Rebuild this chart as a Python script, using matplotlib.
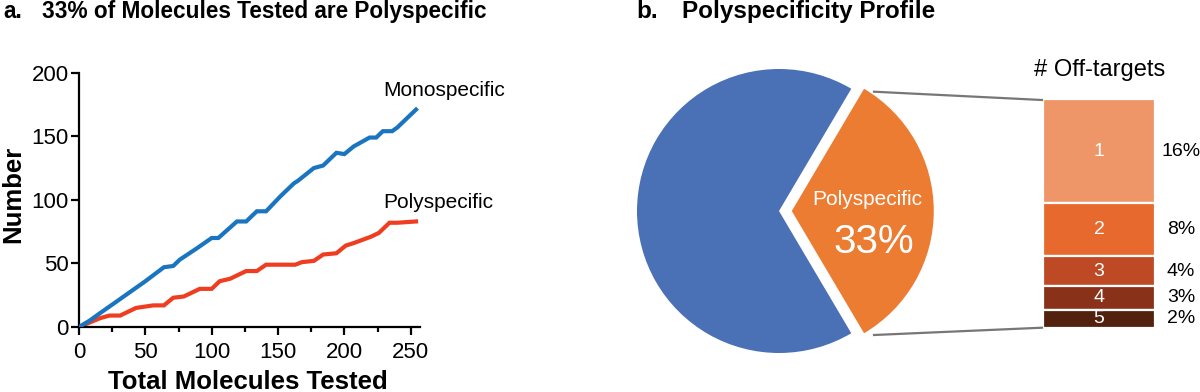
import matplotlib
matplotlib.use("Agg")
import matplotlib.pyplot as plt
from matplotlib.ticker import MultipleLocator

plt.rcParams['font.family'] = ['Liberation Sans', 'DejaVu Sans']

# ---------------- data ----------------
mono_x = [0, 8, 16, 31, 50, 64, 71, 76, 89, 100, 105, 119, 126, 134, 141, 152,
          162, 165, 177, 184, 194, 200, 207, 219, 224, 229, 236, 240, 254]
mono_y = [0, 5, 11, 22, 36, 47, 48, 53, 62, 70, 70, 83, 83, 91, 91, 103,
          113, 115, 125, 127, 137, 136, 142, 149, 149, 154, 154, 157, 171]

poly_x = [0, 16, 23, 31, 43, 56, 64, 71, 79, 91, 100, 106, 114, 126, 134, 141,
          163, 168, 177, 184, 194, 201, 207, 220, 226, 234, 240, 254]
poly_y = [0, 7, 9, 9, 15, 17, 17, 23, 24, 30, 30, 36, 38, 44, 44, 49,
          49, 51, 52, 57, 58, 64, 66, 71, 74, 82, 82, 83]

pie_labels = ['Monospecific', 'Polyspecific']
pie_values = [67, 33]

offtarget_labels = ['1', '2', '3', '4', '5']
offtarget_pct_labels = ['16%', '8%', '4%', '3%', '2%']
offtarget_sizes = [16.2, 8.3, 4.6, 3.7, 2.9]   # drawn segment sizes

# ---------------- figure ----------------
W, H = 1200, 392
fig = plt.figure(figsize=(W / 100, H / 100), dpi=100)


def px_rect(x0, y0, x1, y1):
    """pixel box (top-left origin) -> figure fraction rect"""
    return [x0 / W, 1 - y1 / H, (x1 - x0) / W, (y1 - y0) / H]


# ---------------- panel a ----------------
ax = fig.add_axes(px_rect(79, 72.7, 420, 327))
ax.plot(mono_x, mono_y, color='#1a75c1', lw=3.0, solid_joinstyle='miter', zorder=3)
ax.plot(poly_x, poly_y, color='#ef3d21', lw=3.0, solid_joinstyle='miter', zorder=2)
ax.set_xlim(0, 257)
ax.set_ylim(0, 200)
ax.xaxis.set_major_locator(MultipleLocator(50))
ax.xaxis.set_minor_locator(MultipleLocator(25))
ax.yaxis.set_major_locator(MultipleLocator(50))
for s in ['top', 'right']:
    ax.spines[s].set_visible(False)
for s in ['left', 'bottom']:
    ax.spines[s].set_linewidth(1.6)
ax.tick_params(axis='both', which='major', direction='out', length=5.5, width=1.6,
               labelsize=16, colors='black')
ax.tick_params(axis='x', which='major', pad=5)
ax.tick_params(axis='y', which='major', pad=2)
ax.tick_params(axis='x', which='minor', direction='out', length=3.5, width=1.6)
ax.set_xlabel('Total Molecules Tested', fontsize=18.5, fontweight='bold')
ax.set_ylabel('Number', fontsize=18.5, fontweight='bold')
ax.xaxis.set_label_coords(0.496, -0.215)
ax.xaxis.label.set_va('center')
ax.yaxis.set_label_coords(-0.194, 0.523)
ax.yaxis.label.set_va('center')
ax.text(229, 186, pie_labels[0], fontsize=15, ha='left', va='center')
ax.text(229, 98, pie_labels[1], fontsize=15, ha='left', va='center')

# ---------------- titles ----------------
fig.text(3 / W, 1 - 18 / H, 'a.', fontsize=16.3, fontweight='bold', va='baseline')
fig.text(42 / W, 1 - 18 / H, '33% of Molecules Tested are Polyspecific',
         fontsize=16.3, fontweight='bold', va='baseline')
fig.text(636 / W, 1 - 18 / H, 'b.', fontsize=17.5, fontweight='bold', va='baseline')
fig.text(682 / W, 1 - 18 / H, 'Polyspecificity Profile',
         fontsize=17.5, fontweight='bold', va='baseline')

# ---------------- panel b: pie ----------------
R = 142
cx, cy = 779, 211
axp = fig.add_axes(px_rect(cx - 1.25 * R, cy - 1.25 * R, cx + 1.25 * R, cy + 1.25 * R))
startangle = 180 * pie_values[1] / 100
axp.pie(pie_values, colors=['#4a70b6', '#ec7c31'], startangle=startangle,
        explode=[0, 0.09], radius=1, wedgeprops=dict(linewidth=0))
axp.set_xlim(-1.25, 1.25)
axp.set_ylim(-1.25, 1.25)
axp.set_aspect('equal')
axp.axis('off')
axp.text(0.62, 0.08, pie_labels[1], color='white', fontsize=15, ha='center', va='center')
axp.text(0.665, -0.215, f'{pie_values[1]}%', color='white', fontsize=29, ha='center', va='center')

# ---------------- panel b: stacked bar ----------------
axb = fig.add_axes(px_rect(1043.3, 99.3, 1155, 328.3))
bar_colors = ['#ef9668', '#e8692e', '#bd4a25', '#8a3219', '#52220e']
total = sum(offtarget_sizes)
top = total
for lab, pct, size, col in zip(offtarget_labels, offtarget_pct_labels, offtarget_sizes, bar_colors):
    bottom = top - size
    axb.bar(0, size, bottom=bottom, width=1, color=col, edgecolor='white', linewidth=1.6)
    axb.text(0, bottom + size / 2, lab, color='white', fontsize=14, ha='center', va='center')
    axb.text(0.733, bottom + size / 2, pct, color='black', fontsize=14, ha='center', va='center')
    top = bottom
axb.set_xlim(-0.5, 0.5)
axb.set_ylim(0, total)
axb.axis('off')
axb.text(0.0, total + 4.6, '# Off-targets', fontsize=17, ha='center', va='center')

# ---------------- connector lines (overlay, pixel coords) ----------------
axo = fig.add_axes([0, 0, 1, 1], facecolor='none')
axo.set_xlim(0, W)
axo.set_ylim(H, 0)
axo.axis('off')
axo.plot([874, 1042], [91.7, 100], color='#777777', lw=1.6)
axo.plot([874, 1042], [335, 327.7], color='#777777', lw=1.6)

fig.savefig('out.png', dpi=100)
